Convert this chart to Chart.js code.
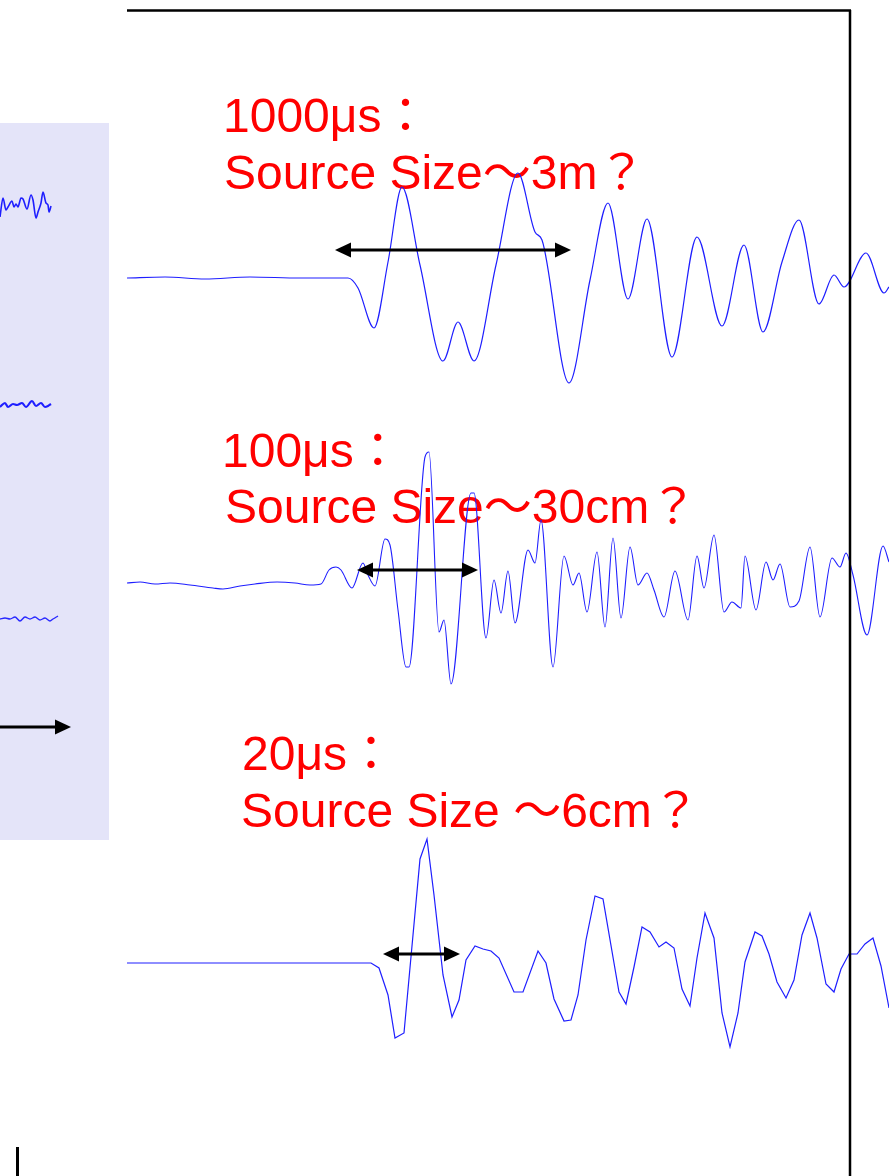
<!DOCTYPE html>
<html>
<head>
<meta charset="utf-8">
<script src="https://cdn.jsdelivr.net/npm/chart.js@4/dist/chart.umd.min.js"></script>
<style>
  html, body { margin: 0; padding: 0; background: #fff; }
  body { width: 889px; height: 1176px; position: relative; overflow: hidden; }
  #panel { position: absolute; left: 0; top: 123px; width: 109px; height: 717px; background: #e4e4f9; }
  #panelChart { position: absolute; left: 0; top: 123px; }
  #mainChart { position: absolute; left: 127px; top: 0; }
  #tick { position: absolute; left: 16px; top: 1147px; width: 2.5px; height: 29px; background: #000; }
</style>
</head>
<body>
<div id="panel"></div>
<canvas id="panelChart" width="109" height="717"></canvas>
<canvas id="mainChart" width="762" height="1176"></canvas>
<div id="tick"></div>
<script>
// DATA - main traces (time in samples from trace start, amplitude relative to trace baseline)
const wave1Time = [0,38,78,123,173,221,231,247,261,275,293,316,331,347,369,391,408,415,442,463,481,501,520,545,570,595,617,636,655,672,692,707,717,739,757,762];
const wave1Amp  = [0,1,-1,1,0,0,-10,-50,16,91,13,-83,-44,-83,13,105,46,38,-105,-2,75,-21,59,-79,41,-48,33,-54,16,58,-26,3,-9,25,-15,-9];

const wave2Time = [0,13,28,43,63,86,96,113,128,150,168,183,194,202,209,214,225,236,241,248,258,263,271,279,282,298,302,312,317,324,344,347,359,367,374,381,388,401,408,414,426,437,446,452,460,470,478,486,494,503,511,520,527,537,548,561,570,577,587,597,605,614,618,629,639,646,653,663,672,683,693,705,713,719,726,740,756,762];
const wave2Amp  = [0,1,-1,0,-2,-5,-6,-3,-1,1,0,-2,-1,13,16,13,-5,20,8,-3,44,38,-27,-84,-84,126,131,-49,-37,-101,90,90,-55,3,-30,12,-40,33,20,63,-84,27,-2,10,-29,31,-44,45,-35,36,-2,10,-7,-34,12,-37,27,-5,48,-29,-19,-25,27,-27,21,3,19,-24,-18,36,-34,25,16,30,8,-52,37,21];

const wave3Time = [0,244,252,261,268,277,293,300,307,316,325,332,339,348,356,364,372,387,396,411,419,427,437,444,451,459,468,476,492,499,507,515,523,532,539,547,555,563,570,578,587,595,603,611,618,628,635,642,650,659,667,675,683,690,699,707,714,722,730,738,746,754,762];
const wave3Amp  = [0,0,-5,-32,-75,-70,104,124,68,-12,-54,-37,3,17,14,12,5,-29,-29,12,0,-36,-58,-57,-32,23,67,64,-29,-41,-4,36,31,16,21,15,-26,-43,5,50,25,-50,-84,-50,1,31,27,9,-19,-35,-17,28,50,25,-21,-29,-6,9,9,19,25,-3,-45];

// duration arrows (start, end in samples) and their level above baseline
const arrowSpans  = [[208, 444], [230, 351], [256, 333]];
const arrowLevels = [28, 13, 9];

// labels
const durationLabels = ['1000μs：', '100μs：', '20μs：'];
const sizeLabels     = ['Source Size～3m？', 'Source Size～30cm？', 'Source Size ～6cm？'];

// DATA - partial traces in the left panel
const leftATime = [0,3,6,8,12,14,16,18,21,23,27,31,33,36,38,41,43,46,48,49,51];
const leftAAmp  = [-12,7,-5,-2,4,-2,1,-2,7,6,-4,10,5,-13,-7,2,13,2,0,-7,-1];
const leftBTime = [0,5,8,13,17,22,26,32,36,41,45,48,51];
const leftBAmp  = [-2,2,-2,1,0,2,-2,4,-1,2,-2,-1,1];
const leftCTime = [0,5,10,15,20,25,30,35,40,45,50,53,58];
const leftCAmp  = [0,1,0,2,-2,2,0,2,-1,1,-2,0,3];

// LAYOUT
const mainBaselines = [278, 583, 963];
const labelPos = [[96, 132, 97, 189], [95, 467, 98, 523], [115, 770, 114, 827]];
const TEXT_STRETCH = 1.0;
const leftBaselines = [205, 405, 619];
const leftArrow = { from: 0, to: 71, y: 727 };

const BLUE = 'rgb(30,30,255)';

function trace(times, amps, base) {
  return times.map((t, i) => ({ x: t, y: base - amps[i] }));
}

function drawArrow(ctx, x0, x1, y, both) {
  const head = 16, half = 7.5;
  ctx.lineWidth = 3;
  ctx.strokeStyle = '#000';
  ctx.fillStyle = '#000';
  ctx.beginPath();
  ctx.moveTo(both ? x0 + head / 2 : x0, y);
  ctx.lineTo(x1 - head / 2, y);
  ctx.stroke();
  ctx.beginPath();
  ctx.moveTo(x1, y);
  ctx.lineTo(x1 - head, y - half);
  ctx.lineTo(x1 - head, y + half);
  ctx.closePath();
  ctx.fill();
  if (both) {
    ctx.beginPath();
    ctx.moveTo(x0, y);
    ctx.lineTo(x0 + head, y - half);
    ctx.lineTo(x0 + head, y + half);
    ctx.closePath();
    ctx.fill();
  }
}

const mainDecor = {
  id: 'mainDecor',
  beforeDatasetsDraw(chart) {
    const ctx = chart.ctx;
    ctx.save();
    ctx.fillStyle = '#ff0000';
    ctx.font = '48px "Liberation Sans", "Noto Sans CJK JP", sans-serif';
    labelPos.forEach((p, i) => {
      [[durationLabels[i], p[0], p[1]], [sizeLabels[i], p[2], p[3]]].forEach(([txt, x, y]) => {
        ctx.save();
        ctx.translate(x, y);
        ctx.scale(TEXT_STRETCH, 1);
        ctx.fillText(txt, 0, 0);
        ctx.restore();
      });
    });
    ctx.restore();
  },
  afterDatasetsDraw(chart) {
    const ctx = chart.ctx;
    const xs = chart.scales.x, ys = chart.scales.y;
    ctx.save();
    arrowSpans.forEach((s, i) => {
      const y = ys.getPixelForValue(mainBaselines[i] - arrowLevels[i]);
      drawArrow(ctx, xs.getPixelForValue(s[0]), xs.getPixelForValue(s[1]), y, true);
    });
    // frame
    ctx.strokeStyle = '#000';
    ctx.lineWidth = 2.5;
    ctx.beginPath();
    ctx.moveTo(0, 10.5);
    ctx.lineTo(724, 10.5);
    ctx.moveTo(723, 10);
    ctx.lineTo(723, 1176);
    ctx.stroke();
    ctx.restore();
  }
};

const leftDecor = {
  id: 'leftDecor',
  afterDatasetsDraw(chart) {
    const ctx = chart.ctx;
    const xs = chart.scales.x, ys = chart.scales.y;
    ctx.save();
    drawArrow(ctx, xs.getPixelForValue(leftArrow.from), xs.getPixelForValue(leftArrow.to),
      ys.getPixelForValue(leftArrow.y), false);
    ctx.restore();
  }
};

const baseOpts = {
  responsive: false,
  animation: false,
  events: [],
  layout: { padding: 0 },
  plugins: { legend: { display: false }, tooltip: { enabled: false } },
  elements: { point: { radius: 0 } }
};

new Chart(document.getElementById('mainChart'), {
  type: 'line',
  data: {
    datasets: [
      { data: trace(wave1Time, wave1Amp, mainBaselines[0]), borderColor: BLUE, borderWidth: 1.2, cubicInterpolationMode: 'monotone' },
      { data: trace(wave2Time, wave2Amp, mainBaselines[1]), borderColor: BLUE, borderWidth: 1.1, cubicInterpolationMode: 'monotone' },
      { data: trace(wave3Time, wave3Amp, mainBaselines[2]), borderColor: BLUE, borderWidth: 1.2, tension: 0 }
    ]
  },
  options: {
    ...baseOpts,
    scales: {
      x: { type: 'linear', min: 0, max: 762, display: false },
      y: { min: 0, max: 1176, reverse: true, display: false }
    }
  },
  plugins: [mainDecor]
});

new Chart(document.getElementById('panelChart'), {
  type: 'line',
  data: {
    datasets: [
      { data: trace(leftATime, leftAAmp, leftBaselines[0]), borderColor: BLUE, borderWidth: 1.6, cubicInterpolationMode: 'monotone' },
      { data: trace(leftBTime, leftBAmp, leftBaselines[1]), borderColor: BLUE, borderWidth: 2.2, cubicInterpolationMode: 'monotone' },
      { data: trace(leftCTime, leftCAmp, leftBaselines[2]), borderColor: 'rgb(40,40,255)', borderWidth: 1.4, cubicInterpolationMode: 'monotone' }
    ]
  },
  options: {
    ...baseOpts,
    scales: {
      x: { type: 'linear', min: 0, max: 109, display: false },
      y: { min: 123, max: 840, reverse: true, display: false }
    }
  },
  plugins: [leftDecor]
});
</script>
</body>
</html>
